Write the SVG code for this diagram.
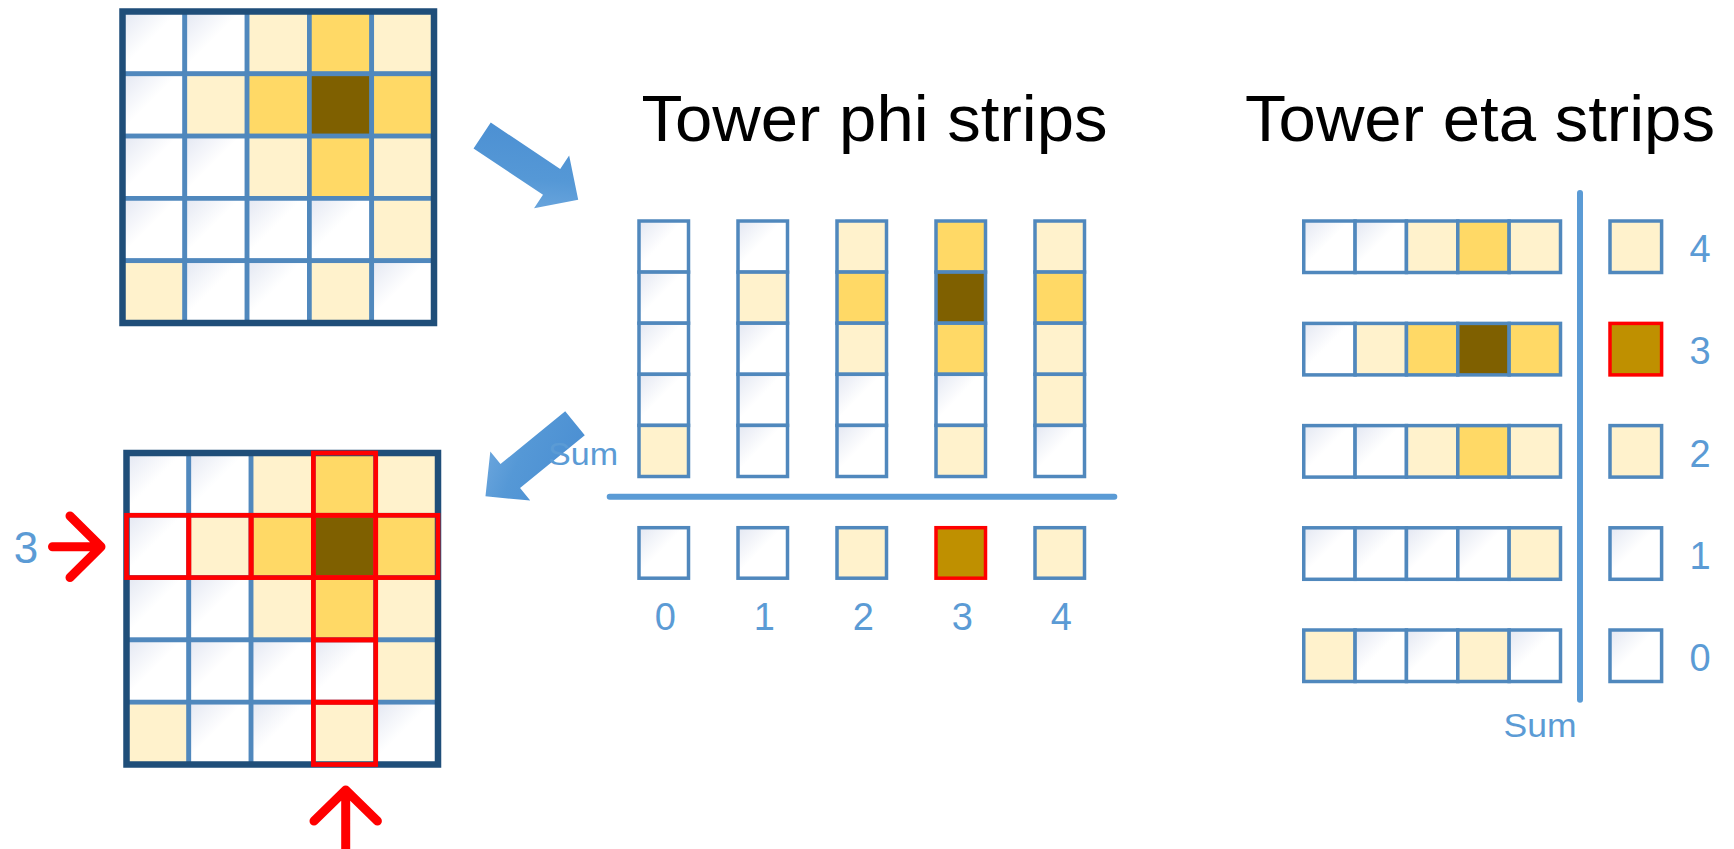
<svg xmlns="http://www.w3.org/2000/svg" width="1734" height="849" viewBox="0 0 1734 849">
  <defs>
    <!-- faint cool sheen on empty towers -->
    <linearGradient id="wg" x1="0" y1="0" x2="1" y2="1">
      <stop offset="0" stop-color="#E3E7F2"/>
      <stop offset="0.45" stop-color="#FFFFFF"/>
      <stop offset="1" stop-color="#FFFFFF"/>
    </linearGradient>
    <linearGradient id="ag" x1="0" y1="0" x2="1" y2="1">
      <stop offset="0" stop-color="#4A8ED2"/>
      <stop offset="0.6" stop-color="#5598D6"/>
      <stop offset="1" stop-color="#72AADF"/>
    </linearGradient>
    <!-- block arrow, tail at origin, pointing along +x -->
    <polygon id="block-arrow" points="0,-15.5 83.5,-15.5 83.5,-31.6 115.5,0 83.5,31.6 83.5,15.5 0,15.5"/>
  </defs>
  <style>
    .w { fill: url(#wg); }
    .l { fill: #FFF2CC; }
    .m { fill: #FFD966; }
    .d { fill: #7F6000; }
    .s { fill: #BF9000; }
    .g rect { stroke: #5088BD; stroke-width: 4.7; }
    .c rect { stroke: #5088BD; stroke-width: 3.5; }
    .c rect.hot { stroke: #FF0000; }
    .frame { fill: none; stroke: #1F4E79; stroke-width: 6.5; }
    .sel { fill: none; stroke: #FF0000; stroke-width: 4.7; }
    .axis { stroke: #5B9BD5; stroke-width: 6; stroke-linecap: round; fill: none; }
    .lbl { font-family: "Liberation Sans", Arial, sans-serif; fill: #5B9BD5; }
    .num { font-size: 38px; text-anchor: middle; }
    .title { font-family: "Liberation Sans", Arial, sans-serif; font-size: 64px; fill: #000000; }
    .pointer { fill: none; stroke: #FF0000; stroke-width: 9; stroke-linecap: round; stroke-linejoin: round; }
    .flow { fill: url(#ag); }
  </style>
  <rect width="1734" height="849" fill="#FFFFFF"/>

  <!-- 5x5 tower energy map -->
  <g id="grid-input">
    <g class="g">
      <rect class="w" x="122.5" y="11.5" width="62.3" height="62.3"/>
      <rect class="w" x="184.8" y="11.5" width="62.3" height="62.3"/>
      <rect class="l" x="247.1" y="11.5" width="62.3" height="62.3"/>
      <rect class="m" x="309.4" y="11.5" width="62.3" height="62.3"/>
      <rect class="l" x="371.7" y="11.5" width="62.3" height="62.3"/>
      <rect class="w" x="122.5" y="73.8" width="62.3" height="62.3"/>
      <rect class="l" x="184.8" y="73.8" width="62.3" height="62.3"/>
      <rect class="m" x="247.1" y="73.8" width="62.3" height="62.3"/>
      <rect class="d" x="309.4" y="73.8" width="62.3" height="62.3"/>
      <rect class="m" x="371.7" y="73.8" width="62.3" height="62.3"/>
      <rect class="w" x="122.5" y="136.1" width="62.3" height="62.3"/>
      <rect class="w" x="184.8" y="136.1" width="62.3" height="62.3"/>
      <rect class="l" x="247.1" y="136.1" width="62.3" height="62.3"/>
      <rect class="m" x="309.4" y="136.1" width="62.3" height="62.3"/>
      <rect class="l" x="371.7" y="136.1" width="62.3" height="62.3"/>
      <rect class="w" x="122.5" y="198.4" width="62.3" height="62.3"/>
      <rect class="w" x="184.8" y="198.4" width="62.3" height="62.3"/>
      <rect class="w" x="247.1" y="198.4" width="62.3" height="62.3"/>
      <rect class="w" x="309.4" y="198.4" width="62.3" height="62.3"/>
      <rect class="l" x="371.7" y="198.4" width="62.3" height="62.3"/>
      <rect class="l" x="122.5" y="260.7" width="62.3" height="62.3"/>
      <rect class="w" x="184.8" y="260.7" width="62.3" height="62.3"/>
      <rect class="w" x="247.1" y="260.7" width="62.3" height="62.3"/>
      <rect class="l" x="309.4" y="260.7" width="62.3" height="62.3"/>
      <rect class="w" x="371.7" y="260.7" width="62.3" height="62.3"/>
    </g>
    <rect class="frame" x="122.5" y="11.5" width="311.5" height="311.5"/>
  </g>

  <!-- same map with the selected eta row and phi column outlined -->
  <g id="grid-result">
    <g class="g">
      <rect class="w" x="126.5" y="453" width="62.3" height="62.3"/>
      <rect class="w" x="188.8" y="453" width="62.3" height="62.3"/>
      <rect class="l" x="251.1" y="453" width="62.3" height="62.3"/>
      <rect class="m" x="313.4" y="453" width="62.3" height="62.3"/>
      <rect class="l" x="375.7" y="453" width="62.3" height="62.3"/>
      <rect class="w" x="126.5" y="515.3" width="62.3" height="62.3"/>
      <rect class="l" x="188.8" y="515.3" width="62.3" height="62.3"/>
      <rect class="m" x="251.1" y="515.3" width="62.3" height="62.3"/>
      <rect class="d" x="313.4" y="515.3" width="62.3" height="62.3"/>
      <rect class="m" x="375.7" y="515.3" width="62.3" height="62.3"/>
      <rect class="w" x="126.5" y="577.6" width="62.3" height="62.3"/>
      <rect class="w" x="188.8" y="577.6" width="62.3" height="62.3"/>
      <rect class="l" x="251.1" y="577.6" width="62.3" height="62.3"/>
      <rect class="m" x="313.4" y="577.6" width="62.3" height="62.3"/>
      <rect class="l" x="375.7" y="577.6" width="62.3" height="62.3"/>
      <rect class="w" x="126.5" y="639.9" width="62.3" height="62.3"/>
      <rect class="w" x="188.8" y="639.9" width="62.3" height="62.3"/>
      <rect class="w" x="251.1" y="639.9" width="62.3" height="62.3"/>
      <rect class="w" x="313.4" y="639.9" width="62.3" height="62.3"/>
      <rect class="l" x="375.7" y="639.9" width="62.3" height="62.3"/>
      <rect class="l" x="126.5" y="702.2" width="62.3" height="62.3"/>
      <rect class="w" x="188.8" y="702.2" width="62.3" height="62.3"/>
      <rect class="w" x="251.1" y="702.2" width="62.3" height="62.3"/>
      <rect class="l" x="313.4" y="702.2" width="62.3" height="62.3"/>
      <rect class="w" x="375.7" y="702.2" width="62.3" height="62.3"/>
    </g>
    <rect class="frame" x="126.5" y="453" width="311.5" height="311.5"/>
    <!-- phi column 3 -->
    <rect class="sel" x="313.4" y="453" width="62.3" height="62.3"/>
    <rect class="sel" x="313.4" y="577.6" width="62.3" height="62.3"/>
    <rect class="sel" x="313.4" y="639.9" width="62.3" height="62.3"/>
    <rect class="sel" x="313.4" y="702.2" width="62.3" height="62.3"/>
    <!-- eta row 3 -->
    <rect class="sel" x="126.5" y="515.3" width="62.3" height="62.3"/>
    <rect class="sel" x="188.8" y="515.3" width="62.3" height="62.3"/>
    <rect class="sel" x="251.1" y="515.3" width="62.3" height="62.3"/>
    <rect class="sel" x="313.4" y="515.3" width="62.3" height="62.3"/>
    <rect class="sel" x="375.7" y="515.3" width="62.3" height="62.3"/>
    <!-- pointers -->
    <text class="lbl" x="26" y="563" font-size="44" text-anchor="middle">3</text>
    <path class="pointer" d="M52.5,546.7 H101 M70,516 L101,546.7 L70,577.5"/>
    <path class="pointer" d="M345.7,790 V860 M314,821 L345.7,790 L377.4,821"/>
  </g>

  <!-- phi strips: columns of the map summed down -->
  <g id="phi-strips" class="c">
    <text class="title" x="641.5" y="140.7" textLength="466" lengthAdjust="spacingAndGlyphs">Tower phi strips</text>
    <!-- column 0 -->
    <rect class="w" x="639" y="221" width="49.5" height="51.1"/>
    <rect class="w" x="639" y="272.1" width="49.5" height="51.1"/>
    <rect class="w" x="639" y="323.2" width="49.5" height="51.1"/>
    <rect class="w" x="639" y="374.3" width="49.5" height="51.1"/>
    <rect class="l" x="639" y="425.4" width="49.5" height="51.1"/>
    <!-- column 1 -->
    <rect class="w" x="738" y="221" width="49.5" height="51.1"/>
    <rect class="l" x="738" y="272.1" width="49.5" height="51.1"/>
    <rect class="w" x="738" y="323.2" width="49.5" height="51.1"/>
    <rect class="w" x="738" y="374.3" width="49.5" height="51.1"/>
    <rect class="w" x="738" y="425.4" width="49.5" height="51.1"/>
    <!-- column 2 -->
    <rect class="l" x="837" y="221" width="49.5" height="51.1"/>
    <rect class="m" x="837" y="272.1" width="49.5" height="51.1"/>
    <rect class="l" x="837" y="323.2" width="49.5" height="51.1"/>
    <rect class="w" x="837" y="374.3" width="49.5" height="51.1"/>
    <rect class="w" x="837" y="425.4" width="49.5" height="51.1"/>
    <!-- column 3 -->
    <rect class="m" x="936" y="221" width="49.5" height="51.1"/>
    <rect class="d" x="936" y="272.1" width="49.5" height="51.1"/>
    <rect class="m" x="936" y="323.2" width="49.5" height="51.1"/>
    <rect class="w" x="936" y="374.3" width="49.5" height="51.1"/>
    <rect class="l" x="936" y="425.4" width="49.5" height="51.1"/>
    <!-- column 4 -->
    <rect class="l" x="1035" y="221" width="49.5" height="51.1"/>
    <rect class="m" x="1035" y="272.1" width="49.5" height="51.1"/>
    <rect class="l" x="1035" y="323.2" width="49.5" height="51.1"/>
    <rect class="l" x="1035" y="374.3" width="49.5" height="51.1"/>
    <rect class="w" x="1035" y="425.4" width="49.5" height="51.1"/>
    <line class="axis" x1="609.7" y1="496.7" x2="1114.3" y2="496.7"/>
    <!-- sums -->
    <rect class="w" x="639" y="527.7" width="49.5" height="50.5"/>
    <rect class="w" x="738" y="527.7" width="49.5" height="50.5"/>
    <rect class="l" x="837" y="527.7" width="49.5" height="50.5"/>
    <rect class="s hot" x="936" y="527.7" width="49.5" height="50.5"/>
    <rect class="l" x="1035" y="527.7" width="49.5" height="50.5"/>
    <text class="lbl num" x="665.3" y="630">0</text>
    <text class="lbl num" x="764.3" y="630">1</text>
    <text class="lbl num" x="863.3" y="630">2</text>
    <text class="lbl num" x="962.3" y="630">3</text>
    <text class="lbl num" x="1061.3" y="630">4</text>
  </g>

  <!-- eta strips: rows of the map summed across -->
  <g id="eta-strips" class="c">
    <text class="title" x="1245" y="140.7" textLength="470" lengthAdjust="spacingAndGlyphs">Tower eta strips</text>
    <!-- row 4 -->
    <rect class="w" x="1303.75" y="221" width="51.35" height="51.5"/>
    <rect class="w" x="1355.1" y="221" width="51.35" height="51.5"/>
    <rect class="l" x="1406.45" y="221" width="51.35" height="51.5"/>
    <rect class="m" x="1457.8" y="221" width="51.35" height="51.5"/>
    <rect class="l" x="1509.15" y="221" width="51.35" height="51.5"/>
    <!-- row 3 -->
    <rect class="w" x="1303.75" y="323.4" width="51.35" height="51.5"/>
    <rect class="l" x="1355.1" y="323.4" width="51.35" height="51.5"/>
    <rect class="m" x="1406.45" y="323.4" width="51.35" height="51.5"/>
    <rect class="d" x="1457.8" y="323.4" width="51.35" height="51.5"/>
    <rect class="m" x="1509.15" y="323.4" width="51.35" height="51.5"/>
    <!-- row 2 -->
    <rect class="w" x="1303.75" y="425.6" width="51.35" height="51.5"/>
    <rect class="w" x="1355.1" y="425.6" width="51.35" height="51.5"/>
    <rect class="l" x="1406.45" y="425.6" width="51.35" height="51.5"/>
    <rect class="m" x="1457.8" y="425.6" width="51.35" height="51.5"/>
    <rect class="l" x="1509.15" y="425.6" width="51.35" height="51.5"/>
    <!-- row 1 -->
    <rect class="w" x="1303.75" y="527.8" width="51.35" height="51.5"/>
    <rect class="w" x="1355.1" y="527.8" width="51.35" height="51.5"/>
    <rect class="w" x="1406.45" y="527.8" width="51.35" height="51.5"/>
    <rect class="w" x="1457.8" y="527.8" width="51.35" height="51.5"/>
    <rect class="l" x="1509.15" y="527.8" width="51.35" height="51.5"/>
    <!-- row 0 -->
    <rect class="l" x="1303.75" y="630" width="51.35" height="51.5"/>
    <rect class="w" x="1355.1" y="630" width="51.35" height="51.5"/>
    <rect class="w" x="1406.45" y="630" width="51.35" height="51.5"/>
    <rect class="l" x="1457.8" y="630" width="51.35" height="51.5"/>
    <rect class="w" x="1509.15" y="630" width="51.35" height="51.5"/>
    <line class="axis" x1="1580" y1="193" x2="1580" y2="699.7"/>
    <!-- sums -->
    <rect class="l" x="1610" y="221" width="51.6" height="51.5"/>
    <rect class="s hot" x="1610" y="323.4" width="51.6" height="51.5"/>
    <rect class="l" x="1610" y="425.6" width="51.6" height="51.5"/>
    <rect class="w" x="1610" y="527.8" width="51.6" height="51.5"/>
    <rect class="w" x="1610" y="630" width="51.6" height="51.5"/>
    <text class="lbl num" x="1700" y="262">4</text>
    <text class="lbl num" x="1700" y="364.4">3</text>
    <text class="lbl num" x="1700" y="466.6">2</text>
    <text class="lbl num" x="1700" y="568.8">1</text>
    <text class="lbl num" x="1700" y="671">0</text>
    <text class="lbl" x="1503.5" y="736.5" font-size="33" textLength="73" lengthAdjust="spacingAndGlyphs">Sum</text>
  </g>

  <g id="connectors">
    <use href="#block-arrow" class="flow" transform="translate(482.15,135.5) rotate(33.73)"/>
    <use href="#block-arrow" class="flow" transform="translate(575,423.35) rotate(140.82)"/>
  </g>

  <text id="phi-sum-label" class="lbl" x="548" y="465" font-size="31" textLength="70" lengthAdjust="spacingAndGlyphs">Sum</text>
</svg>
